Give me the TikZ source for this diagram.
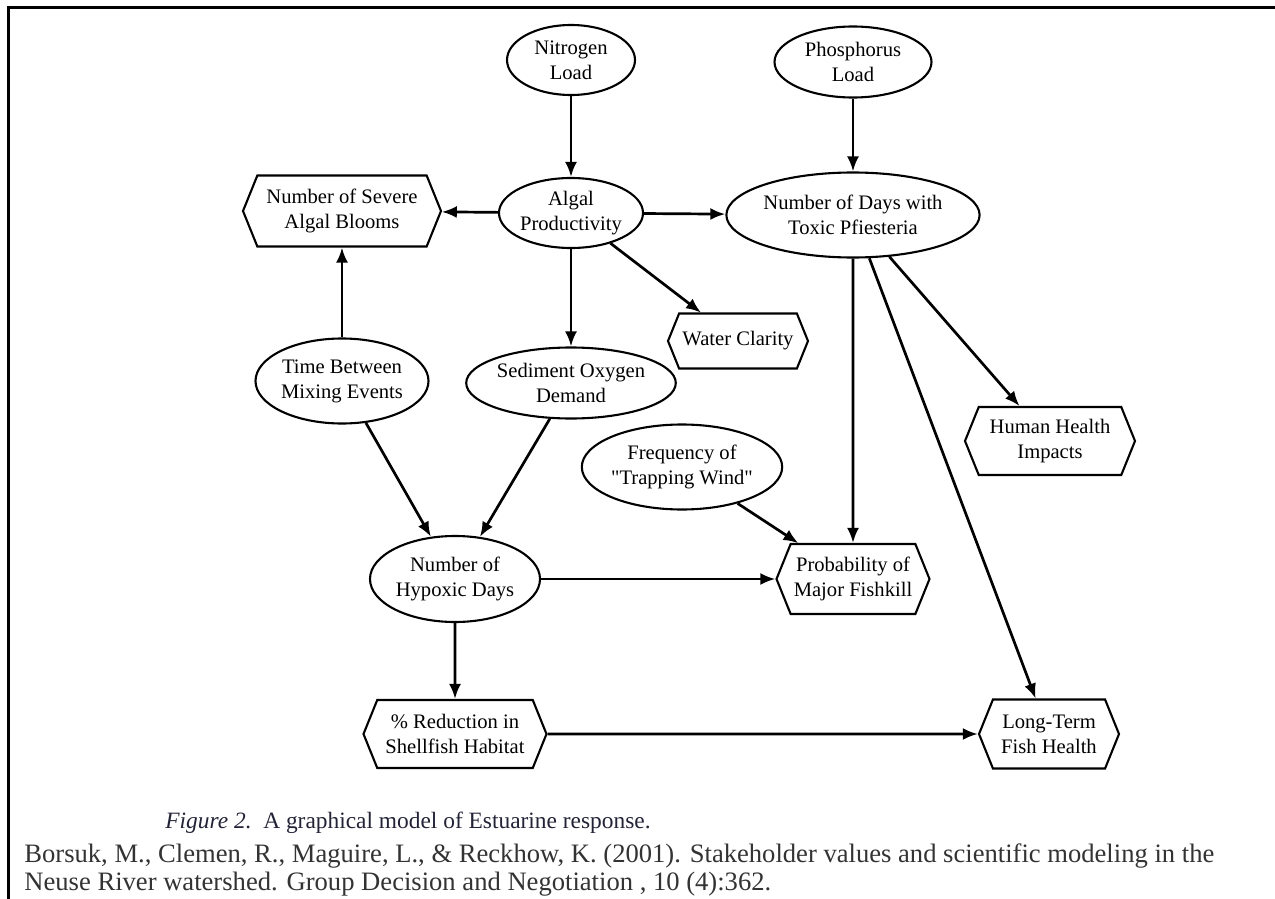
\documentclass[tikz,border=0pt]{standalone}
\usepackage{fontspec}
\setmainfont{Liberation Serif}[Ligatures=TeXOff]
\usetikzlibrary{shapes.geometric,shapes.symbols,arrows.meta}

\definecolor{capcol}{RGB}{35,35,55}
\definecolor{citecol}{RGB}{51,51,51}
\newcommand{\nodefont}{\fontsize{10.3}{12.5}\selectfont}
\newcommand{\dq}{\char34\relax}

\tikzset{
  var/.style={ellipse,draw,line width=1.05pt,inner sep=0pt,align=center,font=\nodefont},
  outcome/.style={signal,signal to=west and east,signal pointer angle=136,draw,
    line width=1.05pt,inner sep=0pt,align=center,font=\nodefont},
  link/.style={line width=1.35pt,-{Latex[length=7.5pt,width=6pt]}}
}

\begin{document}
\begin{tikzpicture}[x=0.5pt,y=-0.5pt]

\useasboundingbox (0,0) rectangle (1275,899);
\draw[line width=1.5pt] (8,899)--(8,8)--(1275,8);

% chance variables
\node[var,minimum width=64pt,minimum height=35pt] (nitro) at (571,60) {Nitrogen\\Load};
\node[var,minimum width=78.5pt,minimum height=35.5pt] (phos) at (853,62) {Phosphorus\\Load};
\node[var,minimum width=70pt,minimum height=35pt] (algal) at (571,213) {Algal\\Productivity};
\node[var,minimum width=114pt,minimum height=42.5pt] (pfies) at (853,215) {Number of Days with\\Toxic Pfiesteria};
\node[var,minimum width=86.5pt,minimum height=42.5pt] (mixing) at (342,381) {Time Between\\Mixing Events};
\node[var,minimum width=91.5pt,minimum height=35.5pt] (sod) at (571,383) {Sediment Oxygen\\Demand};
\node[var,minimum width=85.5pt,minimum height=42.5pt] (wind) at (682,467) {Frequency of\\\dq Trapping Wind\dq};
\node[var,minimum width=85pt,minimum height=43pt] (hypoxic) at (455,579) {Number of\\Hypoxic Days};

% attributes
\node[outcome,minimum width=99pt,minimum height=35.5pt] (blooms) at (342,211) {Number of Severe\\Algal Blooms};
\node[outcome,minimum width=70pt,minimum height=27.5pt] (clarity) at (738,341) {Water Clarity};
\node[outcome,minimum width=85pt,minimum height=34pt] (human) at (1050,441) {Human Health\\Impacts};
\node[outcome,minimum width=76.5pt,minimum height=35pt] (prob) at (853,579) {Probability of\\Major Fishkill};
\node[outcome,minimum width=91.5pt,minimum height=34pt] (reduction) at (455,734) {\% Reduction in\\Shellfish Habitat};
\node[outcome,minimum width=70pt,minimum height=34.5pt] (longterm) at (1049,734) {Long-Term\\Fish Health};

\draw[link] (nitro)--(algal);
\draw[link] (phos)--(pfies);
\draw[link] (algal)--(blooms);
\draw[link] (algal)--(pfies);
\draw[link] (algal)--(clarity);
\draw[link] (algal)--(sod);
\draw[link] (mixing)--(blooms);
\draw[link] (mixing)--(hypoxic);
\draw[link] (sod)--(hypoxic);
\draw[link] (pfies)--(prob);
\draw[link] (pfies)--(human);
\draw[link] (pfies)--(longterm);
\draw[link] (wind)--(prob);
\draw[link] (hypoxic)--(prob);
\draw[link] (hypoxic)--(reduction);
\draw[link] (reduction)--(longterm);

% caption and source
\node[anchor=west,inner sep=0pt,text=capcol,font=\fontsize{11.7}{13}\selectfont] (caption) at (165,823)
  {\textit{Figure 2.}\ \ A graphical model of Estuarine response.};
\node[anchor=west,inner sep=0pt,text=citecol,font=\fontsize{13.3}{15}\selectfont] (cite1) at (24,856)
  {Borsuk, M., Clemen, R., Maguire, L., \& Reckhow, K. (2001). Stakeholder values and scientific modeling in the};
\node[anchor=west,inner sep=0pt,text=citecol,font=\fontsize{13.3}{15}\selectfont] (cite2) at (24,884)
  {Neuse River watershed. Group Decision and Negotiation , 10 (4):362.};

\end{tikzpicture}
\end{document}
